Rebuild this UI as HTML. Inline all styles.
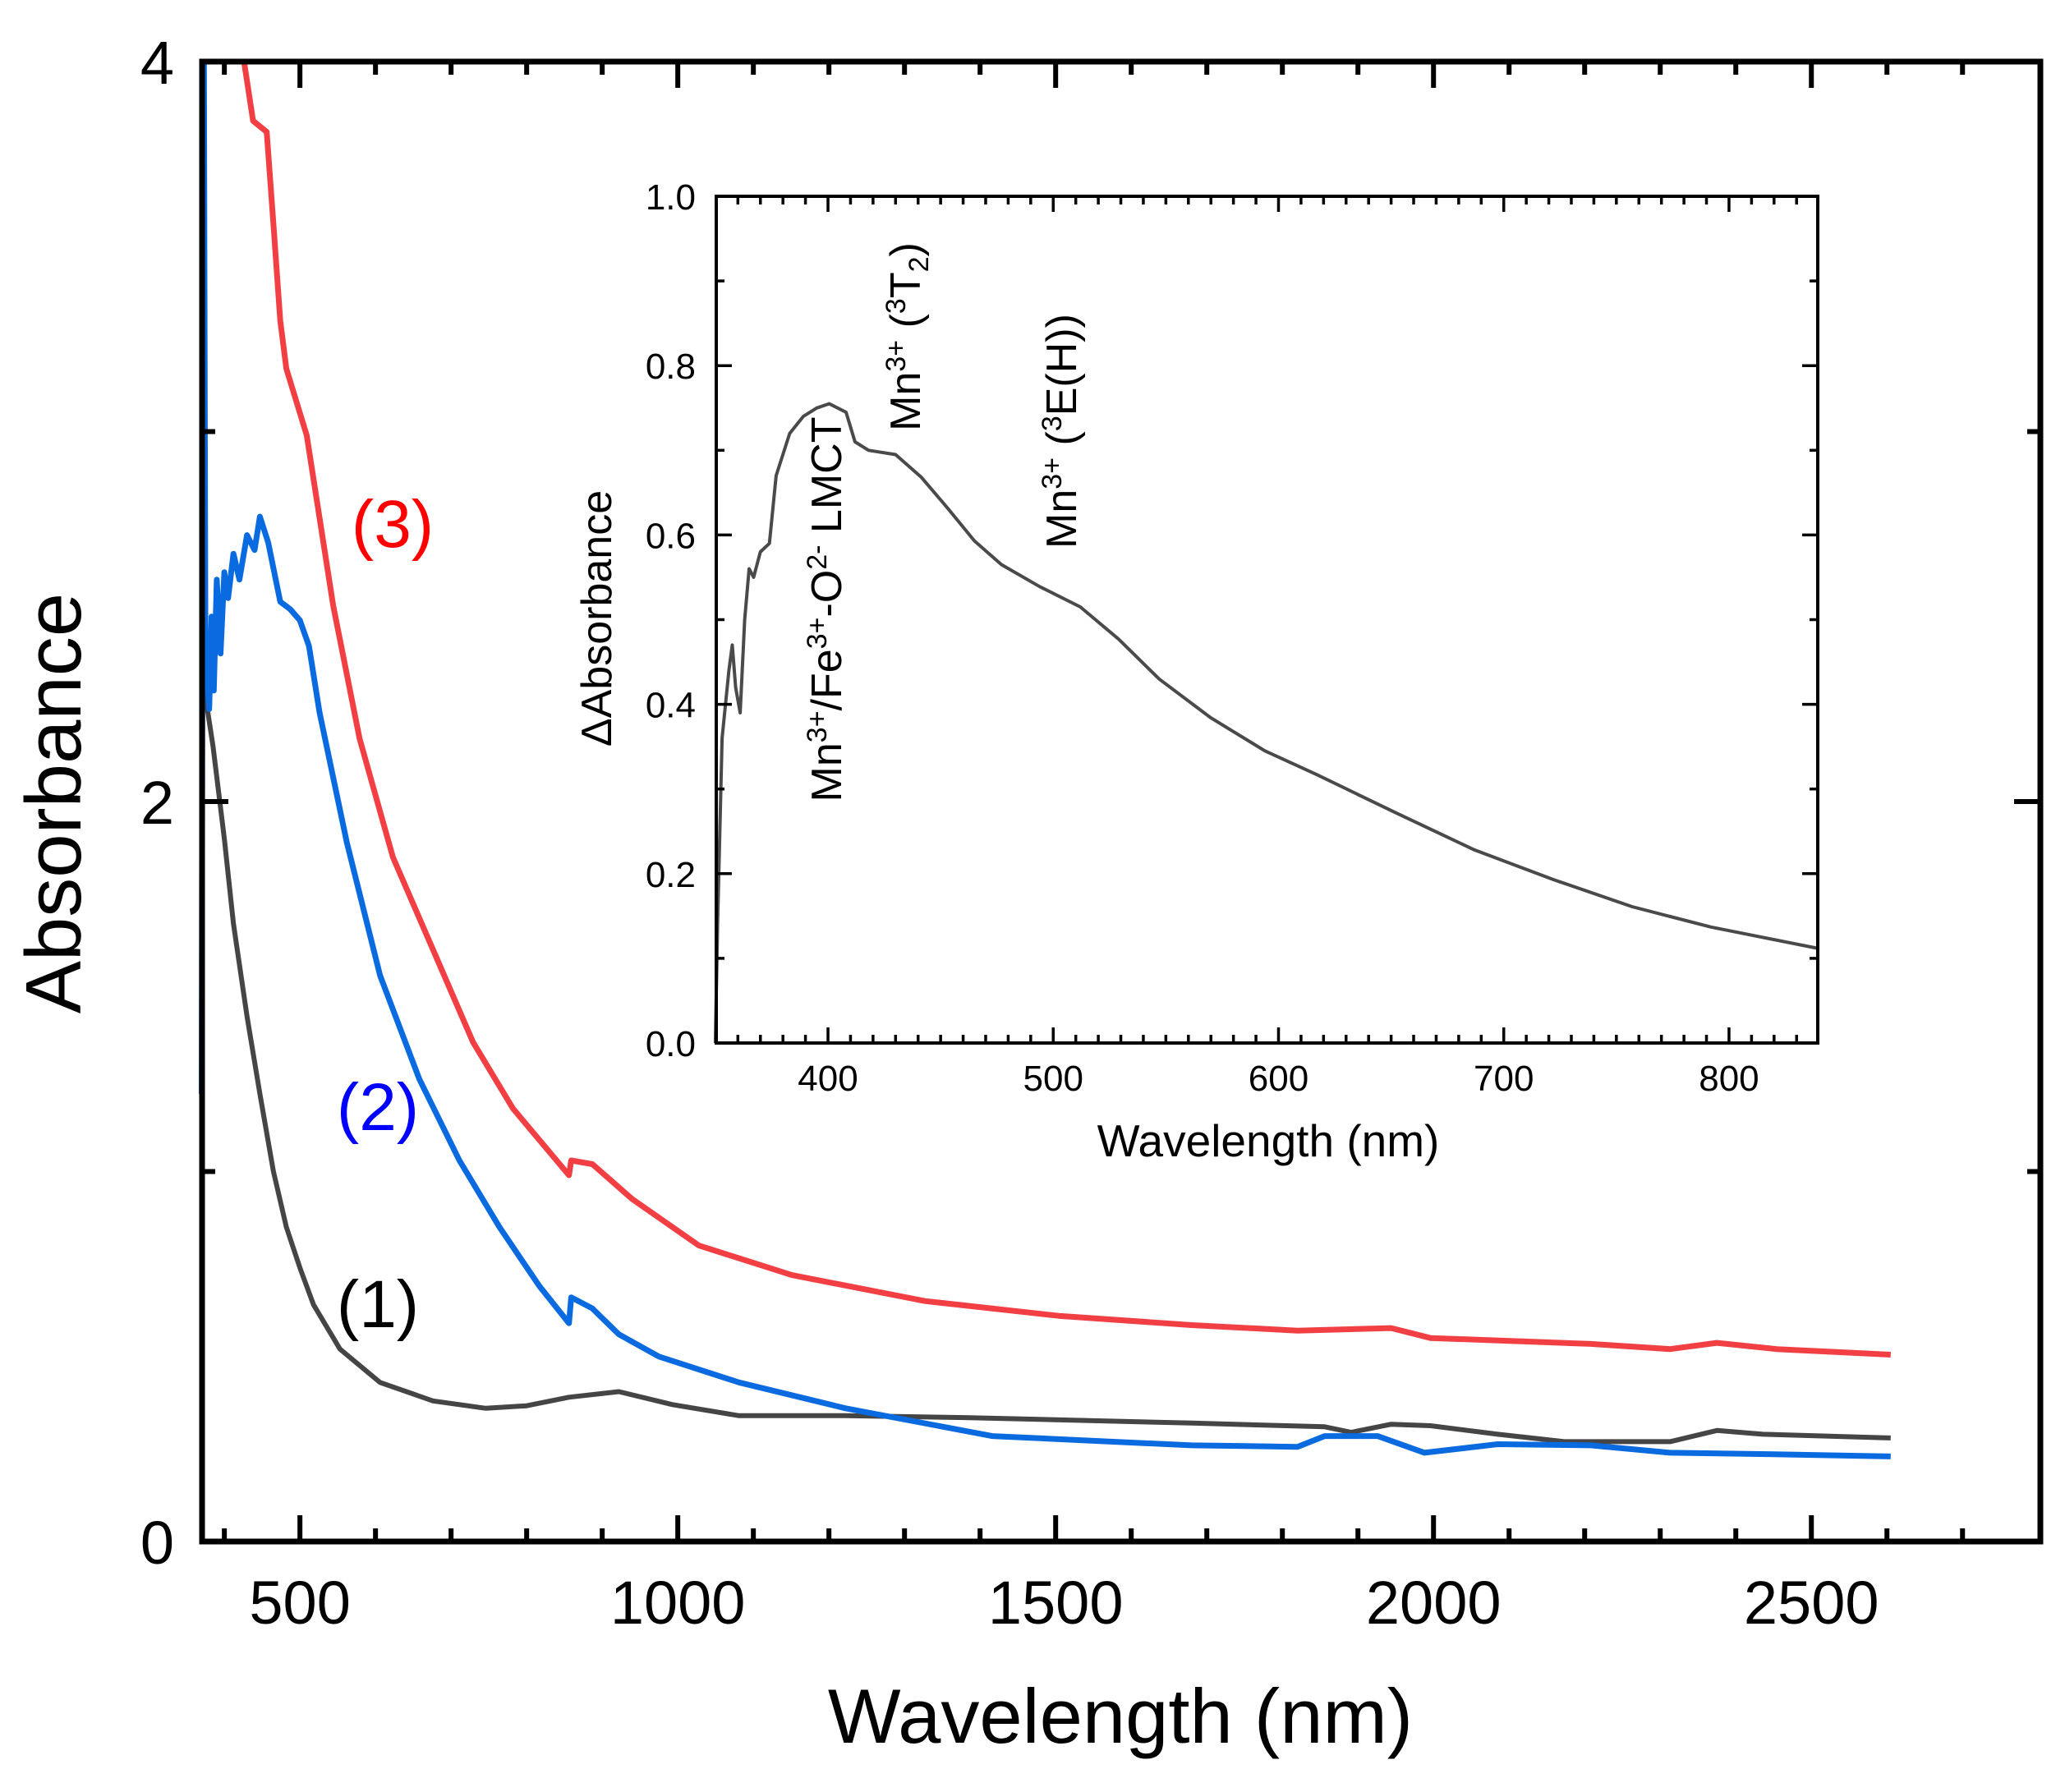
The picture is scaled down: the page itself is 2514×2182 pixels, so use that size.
<!DOCTYPE html>
<html><head><meta charset="utf-8">
<style>
html,body{margin:0;padding:0;background:#fff;}
svg{display:block;font-family:"Liberation Sans",Arial,sans-serif;}
</style></head>
<body>
<svg id="chart" width="2514" height="2182" viewBox="0 0 2514 2182" xmlns="http://www.w3.org/2000/svg">
<rect width="2514" height="2182" fill="#fff"/>
<g id="main-series"></g>
<g id="main-axes"></g>
<text x="1364" y="2122" font-size="94" text-anchor="middle">Wavelength (nm)</text>
<text transform="translate(98,978) rotate(-90)" font-size="96" text-anchor="middle">Absorbance</text>
<text x="478" y="666" font-size="82" fill="#ff0000" text-anchor="middle">(3)</text>
<text x="460" y="1376" font-size="82" fill="#0000ff" text-anchor="middle">(2)</text>
<text x="460" y="1616" font-size="82" fill="#000" text-anchor="middle">(1)</text>
<g id="inset">
<rect x="872" y="239" width="1341" height="1031" fill="#fff"/>
<g id="inset-series"></g>
<g id="inset-axes"></g>
<text x="1544" y="1408" font-size="55" text-anchor="middle">Wavelength (nm)</text>
<text transform="translate(744,753) rotate(-90)" font-size="52" text-anchor="middle">ΔAbsorbance</text>
<text transform="translate(1024,742) rotate(-90)" font-size="52" text-anchor="middle">Mn<tspan dy="-18" font-size="34">3+</tspan><tspan dy="18">/Fe</tspan><tspan dy="-18" font-size="34">3+</tspan><tspan dy="18">-O</tspan><tspan dy="-18" font-size="34">2-</tspan><tspan dy="18"> LMCT</tspan></text>
<text transform="translate(1120,410) rotate(-90)" font-size="52" text-anchor="middle">Mn<tspan dy="-18" font-size="34">3+</tspan><tspan dy="18"> (</tspan><tspan dy="-18" font-size="34">3</tspan><tspan dy="18">T</tspan><tspan dy="10" font-size="34">2</tspan><tspan dy="-10">)</tspan></text>
<text transform="translate(1310,525) rotate(-90)" font-size="52" text-anchor="middle">Mn<tspan dy="-18" font-size="34">3+</tspan><tspan dy="18"> (</tspan><tspan dy="-18" font-size="34">3</tspan><tspan dy="18">E(H))</tspan></text>
</g>
</svg>
<script>
// Main chart data
const blackNm = [373,385,400,412,430,447,465,482,500,518,553,606,676,746,800,856,922,993,1081,1222,1380,1680,1856,1891,1944,1996,2085,2173,2313,2375,2436,2605];
const blackAbs = [2.31,2.15,1.9,1.67,1.42,1.21,1.0,0.85,0.74,0.64,0.52,0.43,0.38,0.36,0.367,0.39,0.405,0.37,0.34,0.34,0.335,0.32,0.31,0.295,0.317,0.313,0.29,0.27,0.27,0.30,0.29,0.28];
const blueNm = [370,371,372,373,375,377,380,383,386,390,395,400,405,412,420,430,440,447,458,474,487,500,512,526,562,606,658,711,764,817,856,859,887,922,975,1081,1222,1416,1680,1820,1856,1926,1988,2085,2208,2313,2472,2605];
const blueAbs = [1.21,2.5,4.1,4.1,2.4,2.35,2.25,2.5,2.3,2.6,2.4,2.62,2.55,2.67,2.6,2.72,2.68,2.77,2.7,2.54,2.52,2.49,2.42,2.24,1.89,1.53,1.25,1.03,0.85,0.69,0.59,0.66,0.63,0.56,0.50,0.43,0.36,0.285,0.26,0.256,0.285,0.285,0.24,0.263,0.26,0.24,0.235,0.23];
const redNm = [426,438,456,465,474,482,509,544,579,623,676,729,782,856,859,887,940,1028,1151,1327,1504,1680,1820,1944,1996,2208,2313,2375,2454,2605];
const redAbs = [4.0,3.84,3.81,3.56,3.3,3.17,2.99,2.53,2.17,1.85,1.60,1.35,1.17,0.99,1.03,1.02,0.925,0.80,0.72,0.65,0.61,0.585,0.57,0.577,0.55,0.534,0.52,0.537,0.52,0.505];
const mainXTicks = [500,1000,1500,2000,2500];
const mainXMinor = [400,600,700,800,900,1100,1200,1300,1400,1600,1700,1800,1900,2100,2200,2300,2400,2600,2700];
const mainYTicks = [0,2,4];
const mainYMinor = [1,3];
// Inset data
const insetNm = [350,351,353,356,357.5,359,361,363,365,367,370,374,377,383,389,395,400.5,408,412,418,430,441.5,453,465,477,494,512,529,547,570,594,617,652,687,722,757,792,839];
const insetDA = [0.0,0.14,0.36,0.44,0.47,0.42,0.39,0.50,0.56,0.55,0.58,0.59,0.67,0.72,0.74,0.75,0.755,0.745,0.71,0.70,0.695,0.668,0.632,0.593,0.565,0.539,0.515,0.477,0.43,0.384,0.345,0.317,0.272,0.228,0.193,0.161,0.137,0.112];
const insetXTicks = [400,500,600,700,800];
const insetYTicks = [0.0,0.2,0.4,0.6,0.8,1.0];

const NS = 'http://www.w3.org/2000/svg';
function mk(tag, attrs, parent){const e=document.createElementNS(NS,tag);for(const k in attrs)e.setAttribute(k,attrs[k]);parent.appendChild(e);return e;}

const mX0=370.5, mX1=2803, mL=246, mR=2484, mT=75, mB=1877;
function mx(v){return mL+(v-mX0)/(mX1-mX0)*(mR-mL);}
function my(v){return mB-(v/4)*(mB-mT);}
const ms=document.getElementById('main-series');
function series(nm,vals,color,name,w,fx,fy,parent){
  let d='';
  for(let i=0;i<nm.length;i++){d+=(i?'L':'M')+fx(nm[i]).toFixed(1)+','+Math.max(fy(vals[i]),fy===my?mT:0).toFixed(1);}
  const p=mk('path',{d:d,fill:'none',stroke:color,'stroke-width':w,'stroke-linejoin':'round'},parent);
  
  
}
series(blackNm,blackAbs,'#454545','series-1-line',6,mx,my,ms);
series(redNm,redAbs,'#f23f44','series-3-line',7,mx,my,ms);
series(blueNm,blueAbs,'#0a6ae0','series-2-line',7,mx,my,ms);

const ma=document.getElementById('main-axes');
const fr=mk('rect',{x:mL,y:mT,width:mR-mL,height:mB-mT,fill:'none',stroke:'#000','stroke-width':7},ma);


mainXTicks.forEach(v=>{
  const x=mx(v);
  mk('line',{x1:x,y1:mB,x2:x,y2:mB-32,stroke:'#000','stroke-width':6},ma);
  mk('line',{x1:x,y1:mT,x2:x,y2:mT+32,stroke:'#000','stroke-width':6},ma);
  const t=mk('text',{x:x,y:1977,'font-size':74,'text-anchor':'middle'},ma);
  t.textContent=v;
  
  
});
mainXMinor.forEach(v=>{
  const x=mx(v);
  mk('line',{x1:x,y1:mB,x2:x,y2:mB-16,stroke:'#000','stroke-width':6},ma);
  mk('line',{x1:x,y1:mT,x2:x,y2:mT+16,stroke:'#000','stroke-width':6},ma);
});
mainYTicks.forEach(v=>{
  const y=my(v);
  mk('line',{x1:mL,y1:y,x2:mL+32,y2:y,stroke:'#000','stroke-width':6},ma);
  mk('line',{x1:mR,y1:y,x2:mR-32,y2:y,stroke:'#000','stroke-width':6},ma);
  const t=mk('text',{x:212,y:y+27,'font-size':74,'text-anchor':'end'},ma);
  t.textContent=v;
  
  
});
mainYMinor.forEach(v=>{
  const y=my(v);
  mk('line',{x1:mL,y1:y,x2:mL+16,y2:y,stroke:'#000','stroke-width':6},ma);
  mk('line',{x1:mR,y1:y,x2:mR-16,y2:y,stroke:'#000','stroke-width':6},ma);
});

const iX0=350.4, iX1=839.4, iL=872, iR=2213, iT=239, iB=1270;
function ix(v){return iL+(v-iX0)/(iX1-iX0)*(iR-iL);}
function iy(v){return iB-v*(iB-iT);}
const is=document.getElementById('inset-series');
series(insetNm,insetDA,'#4a4a4a','inset-delta-line',4,ix,iy,is);
const ia=document.getElementById('inset-axes');
const ifr=mk('rect',{x:iL,y:iT,width:iR-iL,height:iB-iT,fill:'none',stroke:'#000','stroke-width':4},ia);


for(let v=360;v<=830;v+=10){
  const x=ix(v); const major=insetXTicks.includes(v); const len=major?19:10;
  mk('line',{x1:x,y1:iB,x2:x,y2:iB-len,stroke:'#000','stroke-width':3.5},ia);
  mk('line',{x1:x,y1:iT,x2:x,y2:iT+len,stroke:'#000','stroke-width':3.5},ia);
}
insetXTicks.forEach(v=>{
  const t=mk('text',{x:ix(v),y:1328,'font-size':44,'text-anchor':'middle'},ia);
  t.textContent=v;
  
  
});
for(let k=0;k<=10;k++){
  const v=k/10; const y=iy(v); const len=(k%2===0)?19:10;
  mk('line',{x1:iL,y1:y,x2:iL+len,y2:y,stroke:'#000','stroke-width':3.5},ia);
  mk('line',{x1:iR,y1:y,x2:iR-len,y2:y,stroke:'#000','stroke-width':3.5},ia);
}
insetYTicks.forEach(v=>{
  const t=mk('text',{x:847,y:iy(v)+16,'font-size':44,'text-anchor':'end'},ia);
  t.textContent=v.toFixed(1);
  
  
});
</script>
</body></html>
